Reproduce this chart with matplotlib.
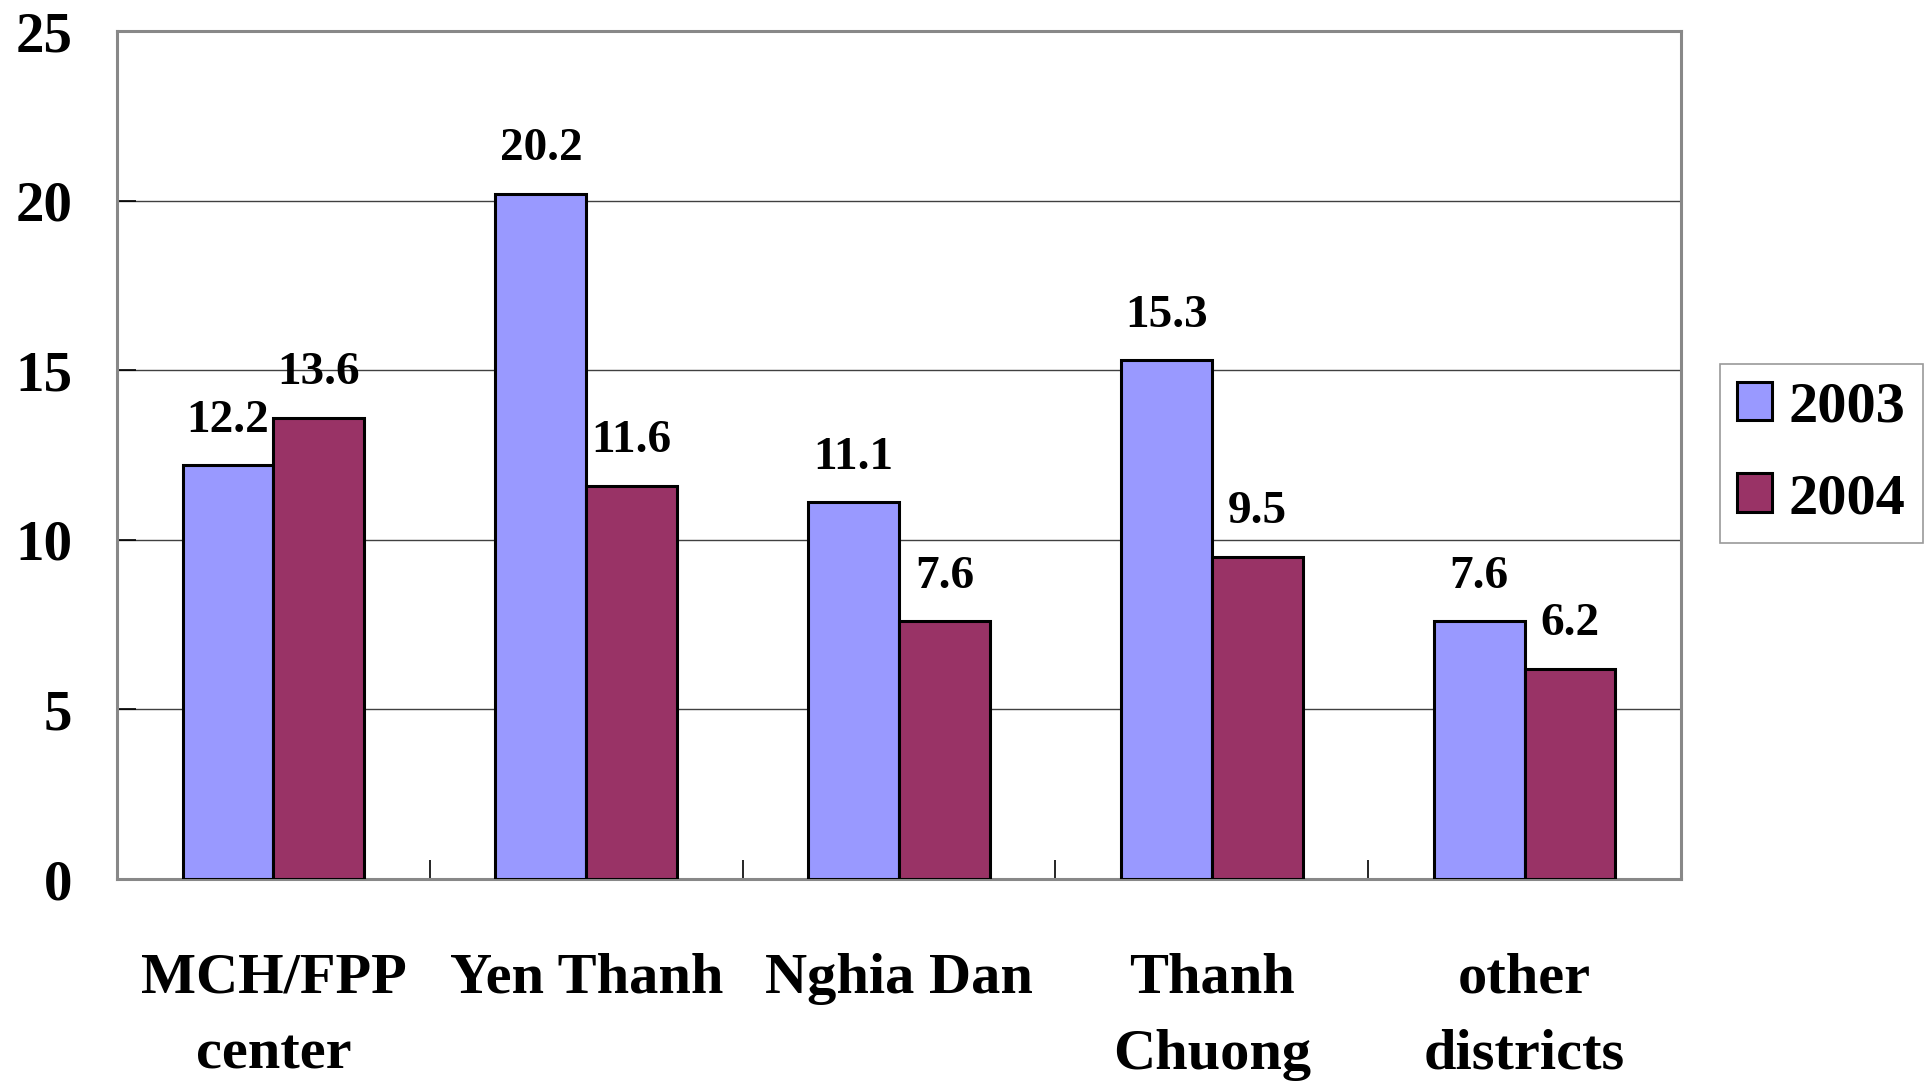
import numpy as np
import matplotlib
matplotlib.use('Agg')
import matplotlib.pyplot as plt

# data
categories = ['MCH/FPP\ncenter', 'Yen Thanh', 'Nghia Dan', 'Thanh\nChuong', 'other\ndistricts']
series_names = ['2003', '2004']
vals_2003 = [12.2, 20.2, 11.1, 15.3, 7.6]
vals_2004 = [13.6, 11.6, 7.6, 9.5, 6.2]
y_ticks = [0, 5, 10, 15, 20, 25]

plt.rcParams['font.family'] = ['Liberation Serif', 'DejaVu Serif']
plt.rcParams['font.weight'] = 'bold'

fig = plt.figure(figsize=(19.31, 10.82), dpi=100)
ax = fig.add_axes([117/1931, 1-879/1082, (1681-117)/1931, (879-31)/1082])

x = np.arange(len(categories))
w = 0.29
b1 = ax.bar(x - w/2, vals_2003, w, color='#9999FF', edgecolor='black', linewidth=2.2,
            label=series_names[0], zorder=3)
b2 = ax.bar(x + w/2, vals_2004, w, color='#993366', edgecolor='black', linewidth=2.2,
            label=series_names[1], zorder=3)

for bars in (b1, b2):
    for r in bars:
        ax.annotate('{:.1f}'.format(r.get_height()),
                    (r.get_x() + r.get_width()/2, r.get_height()),
                    xytext=(0, 24), textcoords='offset points',
                    ha='center', va='baseline', fontsize=34, fontweight='bold', zorder=4)

ax.set_xlim(-0.5, len(categories) - 0.5)
ax.set_ylim(0, 25)
ax.set_yticks(y_ticks)
ax.yaxis.grid(True, color='#404040', linewidth=1.0, zorder=0)
ax.set_axisbelow(True)

ax.set_xticks(x)
ax.set_xticklabels(categories, fontsize=42, fontweight='bold', linespacing=1.6)
ax.set_xticks(np.arange(len(categories) - 1) + 0.5, minor=True)
ax.tick_params(axis='x', which='major', length=0, pad=53)
ax.tick_params(axis='x', which='minor', direction='in', length=14, width=1.2, color='black')
ax.tick_params(axis='y', direction='in', length=14, width=1.2, color='black',
               labelsize=41, pad=32)

for s in ax.spines.values():
    s.set_color('#888888')
    s.set_linewidth(2.2)

leg = fig.legend(loc='upper left', bbox_to_anchor=(1720/1931, 1-364/1082),
                 fontsize=42, frameon=True, fancybox=False, borderpad=0.3,
                 handlelength=0.6, handleheight=0.65, handletextpad=0.28,
                 labelspacing=0.68, borderaxespad=0)
leg.get_frame().set_edgecolor('#808080')
leg.get_frame().set_linewidth(1.2)

fig.savefig('out.png', dpi=100)
